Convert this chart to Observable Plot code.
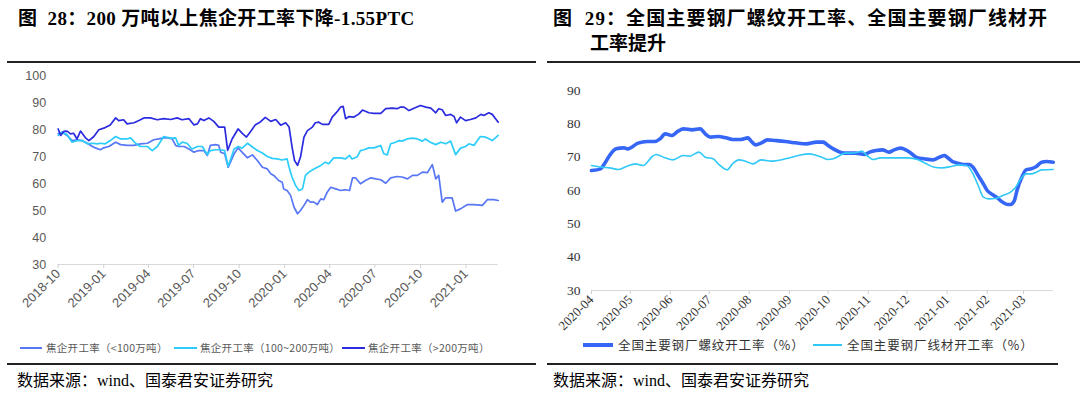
<!DOCTYPE html>
<html><head><meta charset="utf-8">
<script src="https://cdn.jsdelivr.net/npm/d3@7"></script>
<script src="https://cdn.jsdelivr.net/npm/@observablehq/plot@0.6"></script>
<style>
body{margin:0;background:#fff;}
#root{position:relative;width:1080px;height:396px;overflow:hidden;background:#fff;font-family:"Liberation Serif","Noto Sans CJK SC",serif;}
.title{position:absolute;font-weight:bold;font-size:19px;color:#000;white-space:nowrap;line-height:25px;}
.rule{position:absolute;height:0;border-top:2px solid #222;}
.src{position:absolute;font-size:16px;color:#000;white-space:nowrap;line-height:20px;}
.leg{position:absolute;white-space:nowrap;font-family:"Noto Sans CJK SC",sans-serif;line-height:14px;}
.leg span.sw{position:absolute;display:block;height:0;}
.leg span.tx{position:absolute;display:block;}
.chart{position:absolute;}
</style></head><body><div id="root">
<div class="title" style="left:18px;top:6px;letter-spacing:0.35px;">图&nbsp; 28：200 万吨以上焦企开工率下降-1.55PTC</div>
<div class="title" style="left:553px;top:6px;letter-spacing:1.1px;">图&nbsp; 29：全国主要钢厂螺纹开工率、全国主要钢厂线材开</div>
<div class="title" style="left:590px;top:31px;">工率提升</div>
<div class="rule" style="left:7px;top:61px;width:529px;"></div>
<div class="rule" style="left:547px;top:61px;width:533px;"></div>
<div id="left" class="chart" style="left:0;top:62px;"></div>
<div id="right" class="chart" style="left:540px;top:62px;"></div>
<div id="legL" class="leg" style="left:0;top:341px;width:540px;height:14px;font-size:10.5px;color:#595959;letter-spacing:0.3px;"></div>
<div id="legR" class="leg" style="left:540px;top:337px;width:540px;height:16px;font-size:12.5px;color:#333;letter-spacing:0.9px;"></div>
<div class="rule" style="left:7px;top:363px;width:529px;"></div>
<div class="rule" style="left:547px;top:363px;width:511px;"></div>
<div class="src" style="left:17px;top:371px;">数据来源：wind、国泰君安证券研究</div>
<div class="src" style="left:553px;top:371px;">数据来源：wind、国泰君安证券研究</div>
</div>
<script>
// ---------- Left chart data (焦企开工率, %) ----------
const leftSeriesNames = ["焦企开工率（<100万吨）", "焦企开工率（100~200万吨）", "焦企开工率（>200万吨）"];
const leftXTicks = ["2018-10","2019-01","2019-04","2019-07","2019-10","2020-01","2020-04","2020-07","2020-10","2021-01"];
const leftYTicks = [30,40,50,60,70,80,90,100];
const cokeLt100 = [
["2018-10-01",78.5],["2018-10-09",79.0],["2018-10-19",77.8],["2018-10-29",75.9],["2018-11-08",76.2],["2018-11-18",75.9],["2018-11-29",74.9],["2018-12-09",73.7],["2018-12-15",73.2],["2018-12-25",72.5],
["2019-01-01",73.2],["2019-01-11",73.7],["2019-01-25",75.3],["2019-02-04",74.4],["2019-02-17",74.1],["2019-03-03",74.1],["2019-03-16",74.7],["2019-03-30",74.9],["2019-04-12",76.2],["2019-04-22",76.5],
["2019-05-02",76.9],["2019-05-12",76.9],["2019-05-19",76.5],["2019-05-26",74.1],["2019-06-01",73.7],["2019-06-12",73.7],["2019-06-22",72.8],["2019-07-02",71.6],["2019-07-12",72.2],["2019-07-22",72.2],
["2019-07-29",70.4],["2019-08-04",74.1],["2019-08-15",74.4],["2019-08-21",74.1],["2019-08-25",71.6],["2019-09-02",71.0],["2019-09-09",66.0],["2019-09-21",71.0],["2019-09-29",73.2],["2019-10-07",71.6],
["2019-10-18",69.5],["2019-10-28",70.6],["2019-11-07",68.5],["2019-11-17",66.0],["2019-11-27",65.4],["2019-12-04",63.6],["2019-12-10",63.0],["2019-12-20",61.1],["2019-12-27",60.5],["2019-12-30",58.0],
["2020-01-06",57.4],["2020-01-13",55.6],["2020-01-20",51.2],["2020-01-27",48.8],["2020-02-02",50.0],["2020-02-09",51.9],["2020-02-16",54.0],["2020-02-22",53.1],["2020-02-29",53.1],["2020-03-07",52.2],
["2020-03-14",54.3],["2020-03-20",54.0],["2020-03-27",56.8],["2020-04-03",58.6],["2020-04-13",58.0],["2020-04-23",57.4],["2020-05-03",57.7],["2020-05-11",57.4],["2020-05-17",62.1],["2020-05-23",62.1],
["2020-06-02",59.9],["2020-06-12",61.1],["2020-06-23",62.1],["2020-07-03",61.7],["2020-07-13",61.4],["2020-07-23",60.1],["2020-08-02",62.1],["2020-08-15",62.6],["2020-08-25",62.4],["2020-09-05",61.7],
["2020-09-15",63.0],["2020-09-25",63.0],["2020-10-05",64.2],["2020-10-15",64.0],["2020-10-25",67.0],["2020-10-28",64.8],["2020-11-01",61.7],["2020-11-07",63.0],["2020-11-14",53.1],["2020-11-21",54.7],
["2020-12-04",54.7],["2020-12-11",49.8],["2020-12-21",50.6],["2021-01-04",52.2],["2021-01-17",52.2],["2021-02-03",51.9],["2021-02-13",54.0],["2021-02-26",54.0],["2021-03-07",53.7]
];
const coke100to200 = [
["2018-10-01",77.8],["2018-10-09",79.0],["2018-10-19",78.1],["2018-10-29",75.3],["2018-11-08",75.9],["2018-11-18",75.9],["2018-11-29",74.7],["2018-12-09",74.9],["2018-12-19",74.7],["2018-12-25",74.9],
["2019-01-04",74.7],["2019-01-14",75.9],["2019-01-25",77.4],["2019-02-04",76.5],["2019-02-17",76.5],["2019-02-24",76.9],["2019-03-06",74.9],["2019-03-16",73.7],["2019-03-30",73.7],["2019-04-09",72.2],
["2019-04-19",73.7],["2019-05-02",77.4],["2019-05-16",76.8],["2019-05-26",76.9],["2019-06-01",74.1],["2019-06-08",75.3],["2019-06-18",74.9],["2019-06-28",72.8],["2019-07-09",73.7],["2019-07-19",73.7],
["2019-07-29",70.7],["2019-08-04",72.2],["2019-08-15",72.5],["2019-08-25",72.5],["2019-09-02",72.2],["2019-09-09",66.3],["2019-09-21",72.8],["2019-09-29",73.7],["2019-10-07",73.1],["2019-10-18",74.9],
["2019-10-28",73.5],["2019-11-07",72.2],["2019-11-17",71.3],["2019-11-27",70.0],["2019-12-07",69.3],["2019-12-17",69.1],["2019-12-27",68.7],["2020-01-06",69.1],["2020-01-10",66.0],["2020-01-16",62.3],
["2020-01-23",59.3],["2020-01-30",57.4],["2020-02-06",58.0],["2020-02-12",63.0],["2020-02-19",64.2],["2020-02-29",65.4],["2020-03-14",66.7],["2020-03-23",67.9],["2020-03-30",67.3],["2020-04-09",69.5],
["2020-04-23",69.5],["2020-05-03",69.1],["2020-05-11",70.4],["2020-05-16",69.1],["2020-05-26",69.8],["2020-06-02",72.2],["2020-06-09",72.5],["2020-06-19",73.2],["2020-06-29",73.2],["2020-07-13",74.1],
["2020-07-19",71.0],["2020-07-26",70.6],["2020-08-02",74.7],["2020-08-12",75.3],["2020-08-19",75.9],["2020-08-25",75.7],["2020-09-04",76.5],["2020-09-15",76.8],["2020-09-25",76.5],["2020-10-05",75.7],
["2020-10-11",76.5],["2020-10-21",75.3],["2020-11-01",74.4],["2020-11-11",75.3],["2020-11-21",74.7],["2020-12-01",75.7],["2020-12-11",70.7],["2020-12-21",73.1],["2020-12-31",73.7],["2021-01-07",74.7],
["2021-01-17",74.1],["2021-01-24",75.9],["2021-01-30",77.4],["2021-02-09",77.2],["2021-02-23",75.9],["2021-03-07",77.8]
];
const cokeGt200 = [
["2018-10-01",80.2],["2018-10-06",77.8],["2018-10-12",79.3],["2018-10-19",79.4],["2018-10-26",78.4],["2018-11-01",78.6],["2018-11-08",76.5],["2018-11-15",79.4],["2018-11-25",76.9],["2018-12-02",75.9],
["2018-12-12",77.4],["2018-12-22",79.9],["2019-01-01",80.5],["2019-01-14",81.7],["2019-01-25",84.3],["2019-01-31",83.3],["2019-02-10",83.6],["2019-02-17",82.1],["2019-03-03",82.5],["2019-03-13",83.3],
["2019-03-23",84.3],["2019-04-05",84.3],["2019-04-19",83.6],["2019-05-02",84.0],["2019-05-16",83.7],["2019-05-29",84.3],["2019-06-08",83.6],["2019-06-22",84.0],["2019-07-02",81.7],["2019-07-09",82.1],
["2019-07-15",84.0],["2019-07-22",83.3],["2019-08-01",84.3],["2019-08-11",83.0],["2019-08-21",80.9],["2019-09-02",80.9],["2019-09-08",72.3],["2019-09-17",76.5],["2019-09-29",80.2],["2019-10-08",78.5],
["2019-10-16",77.2],["2019-10-24",79.2],["2019-11-03",81.8],["2019-11-13",82.8],["2019-11-23",84.5],["2019-12-04",83.0],["2019-12-14",83.7],["2019-12-24",81.6],["2020-01-03",82.5],["2020-01-10",80.9],
["2020-01-16",73.5],["2020-01-21",68.5],["2020-01-27",66.7],["2020-02-02",69.8],["2020-02-09",77.2],["2020-02-16",79.6],["2020-02-26",80.9],["2020-03-03",82.5],["2020-03-10",82.7],["2020-03-17",81.9],
["2020-03-30",81.9],["2020-04-06",84.6],["2020-04-16",86.6],["2020-04-23",88.3],["2020-04-28",88.6],["2020-05-03",84.0],["2020-05-10",84.8],["2020-05-20",84.6],["2020-05-30",85.8],["2020-06-06",87.2],
["2020-06-19",86.2],["2020-06-29",86.0],["2020-07-13",86.0],["2020-07-23",87.7],["2020-08-05",87.9],["2020-08-15",87.7],["2020-08-22",88.3],["2020-08-29",88.3],["2020-09-08",87.0],["2020-09-18",87.9],
["2020-10-01",88.9],["2020-10-12",88.3],["2020-10-22",87.9],["2020-11-01",86.2],["2020-11-07",87.7],["2020-11-14",87.3],["2020-11-21",85.2],["2020-12-01",85.6],["2020-12-08",84.8],["2020-12-13",82.5],
["2020-12-21",84.6],["2020-12-31",83.3],["2021-01-10",83.7],["2021-01-21",84.3],["2021-01-31",85.6],["2021-02-06",85.2],["2021-02-16",86.2],["2021-02-23",85.6],["2021-03-07",82.7]
];

// ---------- Right chart data (钢厂开工率, %) ----------
const rightSeriesNames = ["全国主要钢厂螺纹开工率（%）", "全国主要钢厂线材开工率（%）"];
const rightXTicks = ["2020-04","2020-05","2020-06","2020-07","2020-08","2020-09","2020-10","2020-11","2020-12","2021-01","2021-02","2021-03"];
const rightYTicks = [30,40,50,60,70,80,90];
const rebarRate = [
["2020-04-01",66.0],["2020-04-08",66.5],["2020-04-11",68.0],["2020-04-15",70.5],["2020-04-20",72.5],["2020-04-26",72.8],["2020-04-29",72.5],["2020-05-07",74.2],["2020-05-14",74.7],["2020-05-20",74.7],
["2020-05-24",75.5],["2020-05-28",77.0],["2020-06-02",76.5],["2020-06-07",77.8],["2020-06-11",78.5],["2020-06-18",78.2],["2020-06-24",78.5],["2020-06-28",77.0],["2020-07-02",76.0],["2020-07-08",76.2],
["2020-07-14",75.8],["2020-07-19",75.3],["2020-07-25",75.3],["2020-07-31",75.8],["2020-08-02",75.0],["2020-08-06",73.7],["2020-08-10",74.2],["2020-08-15",75.2],["2020-08-21",75.0],["2020-08-29",74.7],
["2020-09-06",74.3],["2020-09-14",74.0],["2020-09-22",74.5],["2020-09-27",74.5],["2020-10-01",73.5],["2020-10-05",72.5],["2020-10-09",71.7],["2020-10-13",71.2],["2020-10-22",71.2],["2020-10-29",70.8],
["2020-11-02",71.5],["2020-11-07",72.0],["2020-11-12",72.2],["2020-11-17",71.5],["2020-11-21",72.2],["2020-11-26",72.7],["2020-11-30",72.2],["2020-12-04",71.2],["2020-12-09",69.8],["2020-12-14",69.5],
["2020-12-21",69.2],["2020-12-26",70.0],["2020-12-30",70.5],["2021-01-01",70.0],["2021-01-05",68.7],["2021-01-09",68.2],["2021-01-14",67.8],["2021-01-18",67.8],["2021-01-21",67.0],["2021-01-25",64.5],
["2021-01-29",62.0],["2021-02-01",60.0],["2021-02-05",58.8],["2021-02-09",57.7],["2021-02-13",56.5],["2021-02-17",55.8],["2021-02-19",55.8],["2021-02-22",57.0],["2021-02-24",60.0],["2021-02-28",64.2],
["2021-03-03",66.2],["2021-03-07",66.5],["2021-03-11",67.2],["2021-03-15",68.5],["2021-03-19",68.7],["2021-03-24",68.5]
];
const wireRodRate = [
["2020-04-01",67.5],["2020-04-09",67.0],["2020-04-15",66.8],["2020-04-22",66.3],["2020-04-28",67.2],["2020-05-05",68.0],["2020-05-11",67.5],["2020-05-18",70.2],["2020-05-21",70.8],["2020-05-28",69.8],
["2020-06-03",69.2],["2020-06-11",70.5],["2020-06-16",70.3],["2020-06-23",71.5],["2020-06-28",70.0],["2020-07-04",69.5],["2020-07-08",68.0],["2020-07-15",66.2],["2020-07-19",68.0],["2020-07-24",69.2],
["2020-07-29",68.8],["2020-08-04",68.0],["2020-08-10",69.2],["2020-08-18",68.8],["2020-08-29",69.5],["2020-09-08",70.5],["2020-09-16",71.0],["2020-09-22",70.5],["2020-09-26",70.0],["2020-10-01",69.3],
["2020-10-05",69.5],["2020-10-09",70.3],["2020-10-14",71.2],["2020-10-19",71.2],["2020-10-24",71.5],["2020-10-27",71.8],["2020-10-31",70.5],["2020-11-05",69.3],["2020-11-10",69.8],["2020-11-24",69.8],
["2020-12-02",69.8],["2020-12-09",69.3],["2020-12-15",68.2],["2020-12-22",67.0],["2020-12-28",66.8],["2021-01-04",67.2],["2021-01-10",67.7],["2021-01-16",67.5],["2021-01-21",65.0],["2021-01-25",61.5],
["2021-01-29",58.0],["2021-02-02",57.5],["2021-02-08",57.7],["2021-02-13",58.5],["2021-02-19",59.5],["2021-02-23",61.0],["2021-02-27",63.5],["2021-03-03",65.0],["2021-03-07",65.0],["2021-03-11",65.5],
["2021-03-15",66.2],["2021-03-24",66.3]
];

const colLt100 = "#5877f5", col100 = "#2ccdfb", colGt200 = "#2b2be0";
const colRebar = "#3566f5", colWire = "#30c8f8";

const toRows = arr => arr.map(([d, v]) => ({date: new Date(d + "T00:00:00Z"), value: v}));
const monthTick = s => new Date(s + "-01T00:00:00Z");
const fmt = d3.utcFormat("%Y-%m");

const left = Plot.plot({
  width: 540, height: 270,
  marginTop: 13, marginBottom: 68, marginLeft: 57.7, marginRight: 42.3,
  style: {fontFamily: "'Liberation Sans', sans-serif", fontSize: "12px", color: "#595959", background: "transparent", overflow: "visible"},
  x: {type: "utc", domain: [new Date("2018-10-01T00:00:00Z"), new Date("2021-03-07T00:00:00Z")]},
  y: {domain: [30, 100]},
  marks: [
    Plot.ruleY([30], {stroke: "#d9d9d9", strokeWidth: 1.2}),
    Plot.axisY({ticks: leftYTicks, tickSize: 0, tickPadding: 12, label: null, fill: "#595959", fontSize: 12.5}),
    Plot.axisX({ticks: leftXTicks.map(monthTick), tickFormat: fmt, tickRotate: -45, tickSize: 4, tickPadding: 3, label: null, stroke: "#d0d0d0", fill: "#595959", fontSize: 13}),
    Plot.line(toRows(cokeLt100), {x: "date", y: "value", stroke: colLt100, strokeWidth: 1.7}),
    Plot.line(toRows(coke100to200), {x: "date", y: "value", stroke: col100, strokeWidth: 1.7}),
    Plot.line(toRows(cokeGt200), {x: "date", y: "value", stroke: colGt200, strokeWidth: 1.7})
  ]
});
document.getElementById("left").appendChild(left);

const right = Plot.plot({
  width: 540, height: 280,
  marginTop: 28, marginBottom: 52, marginLeft: 51, marginRight: 27.3,
  style: {fontFamily: "'Liberation Serif', serif", fontSize: "13px", color: "#333", background: "transparent", overflow: "visible"},
  x: {type: "utc", domain: [new Date("2020-04-01T00:00:00Z"), new Date("2021-03-24T00:00:00Z")]},
  y: {domain: [30, 90]},
  marks: [
    Plot.ruleY([30], {stroke: "#d9d9d9", strokeWidth: 1.2}),
    Plot.axisY({ticks: rightYTicks, tickSize: 0, tickPadding: 11, label: null, fill: "#333", fontSize: 13.5}),
    Plot.axisX({ticks: rightXTicks.map(monthTick), tickFormat: fmt, tickRotate: -45, tickSize: 4, tickPadding: 3, label: null, stroke: "#d0d0d0", fill: "#333", fontSize: 13}),
    Plot.line(toRows(rebarRate), {x: "date", y: "value", stroke: colRebar, strokeWidth: 3.6, curve: "monotone-x"}),
    Plot.line(toRows(wireRodRate), {x: "date", y: "value", stroke: colWire, strokeWidth: 1.6, curve: "monotone-x"})
  ]
});
document.getElementById("right").appendChild(right);

// legends
function legend(el, items) {
  for (const it of items) {
    const sw = document.createElement("span");
    sw.className = "sw";
    sw.style.left = it.x0 + "px";
    sw.style.width = (it.x1 - it.x0) + "px";
    sw.style.top = (el.clientHeight / 2 - it.w / 2) + "px";
    sw.style.borderTop = it.w + "px solid " + it.color;
    el.appendChild(sw);
    const tx = document.createElement("span");
    tx.className = "tx";
    tx.style.left = it.tx + "px";
    tx.style.top = "0px";
    tx.style.lineHeight = el.clientHeight + "px";
    tx.textContent = it.name;
    el.appendChild(tx);
  }
}
legend(document.getElementById("legL"), [
  {name: leftSeriesNames[0], color: colLt100, w: 2, x0: 20, x1: 42, tx: 46},
  {name: leftSeriesNames[1], color: col100, w: 2, x0: 174, x1: 197, tx: 200},
  {name: leftSeriesNames[2], color: colGt200, w: 2, x0: 342, x1: 365, tx: 368}
]);
legend(document.getElementById("legR"), [
  {name: rightSeriesNames[0], color: colRebar, w: 4, x0: 43, x1: 73, tx: 78},
  {name: rightSeriesNames[1], color: colWire, w: 2, x0: 273, x1: 302, tx: 307}
]);
</script>
</body></html>
